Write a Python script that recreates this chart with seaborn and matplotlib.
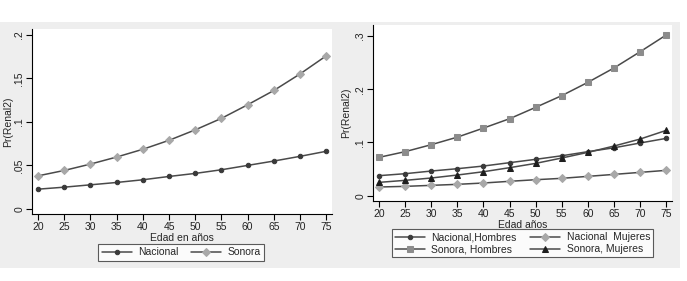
import numpy as np
import pandas as pd
import matplotlib
matplotlib.use("Agg")
import matplotlib.pyplot as plt
import matplotlib.patches as mpatches
import seaborn as sns

# edades
edad = [20, 25, 30, 35, 40, 45, 50, 55, 60, 65, 70, 75]

# panel izquierdo
nacional = [0.0227, 0.0250, 0.0277, 0.0304, 0.0335, 0.0373, 0.0408, 0.0450, 0.0500, 0.0550, 0.0604, 0.0662]
sonora = [0.0380, 0.0442, 0.0515, 0.0596, 0.0685, 0.0788, 0.0908, 0.1040, 0.1196, 0.1360, 0.1550, 0.1758]

# panel derecho
nac_hombres = [0.0376, 0.0413, 0.0463, 0.0507, 0.0557, 0.0620, 0.0683, 0.0750, 0.0827, 0.0900, 0.0990, 0.1077]
nac_mujeres = [0.0163, 0.0175, 0.0194, 0.0213, 0.0238, 0.0270, 0.0300, 0.0326, 0.0363, 0.0400, 0.0438, 0.0476]
son_hombres = [0.0720, 0.0827, 0.0958, 0.1100, 0.1270, 0.1446, 0.1660, 0.1880, 0.2130, 0.2400, 0.2705, 0.3020]
son_mujeres = [0.0250, 0.0288, 0.0332, 0.0388, 0.0450, 0.0526, 0.0607, 0.0708, 0.0814, 0.0933, 0.1064, 0.1227]

left_ticks = [0, 0.05, 0.1, 0.15, 0.2]
left_ticklabels = ["0", ".05", ".1", ".15", ".2"]
right_ticks = [0, 0.1, 0.2, 0.3]
right_ticklabels = ["0", ".1", ".2", ".3"]

sns.set_theme(style="white")
plt.rcParams['font.family'] = ['Liberation Sans', 'DejaVu Sans']

W, H = 687, 281
fig = plt.figure(figsize=(W / 100, H / 100), dpi=100)
fig.patch.set_facecolor("white")

# fondo gris de la grafica (estilo Stata)
fondo = mpatches.Rectangle((0, 1 - 268 / H), 680 / W, (268 - 22) / H,
                           transform=fig.transFigure, facecolor="#eeeeee",
                           edgecolor="none", zorder=-10)
fig.patches.append(fondo)

def box(x0, y0, x1, y1):
    return [x0 / W, 1 - y1 / H, (x1 - x0) / W, (y1 - y0) / H]

ax1 = fig.add_axes(box(32, 29, 332, 214))
ax2 = fig.add_axes(box(373, 25, 672, 201))

line_col = "#4a4a4a"
fs = 7.5

def serie(ax, y, marker, mcol, ms, label):
    df = pd.DataFrame({"edad": edad, "pr": y})
    sns.lineplot(data=df, x="edad", y="pr", ax=ax, color=line_col, lw=1.1,
                 marker=marker, markersize=ms, markerfacecolor=mcol,
                 markeredgecolor=mcol, label=label)

serie(ax1, nacional, "o", "#3a3a3a", 3.2, "Nacional")
serie(ax1, sonora, "D", "#a8a8a8", 3.8, "Sonora")

serie(ax2, nac_hombres, "o", "#3a3a3a", 3.2, "Nacional,Hombres")
serie(ax2, nac_mujeres, "D", "#a8a8a8", 3.8, "Nacional  Mujeres")
serie(ax2, son_hombres, "s", "#8c8c8c", 3.8, "Sonora, Hombres")
serie(ax2, son_mujeres, "^", "#1e1e1e", 4.3, "Sonora, Mujeres")

def estilo(ax, ticks, labels, ylim, xlabel, ylab_x):
    ax.set_facecolor("white")
    ax.set_xlim(18.85, 76.1)
    ax.set_ylim(*ylim)
    ax.set_xticks(edad)
    ax.set_xticklabels([str(e) for e in edad], fontsize=fs)
    ax.set_yticks(ticks)
    ax.set_yticklabels(labels, fontsize=fs, rotation=90, va="center")
    ax.set_xlabel(xlabel, fontsize=fs, labelpad=0.8)
    ax.set_ylabel("Pr(Renal2)", fontsize=fs)
    ax.yaxis.set_label_coords(ylab_x, 0.5)
    for s in ["top", "right"]:
        ax.spines[s].set_visible(False)
    for s in ["left", "bottom"]:
        ax.spines[s].set_color("black")
        ax.spines[s].set_linewidth(0.8)
    ax.tick_params(axis="both", direction="out", length=4, width=0.8,
                   colors="black", pad=1.5, bottom=True, left=True)
    ax.tick_params(labelcolor="#222222")

estilo(ax1, left_ticks, left_ticklabels, (-0.0058, 0.2066), "Edad en años", -0.063)
estilo(ax2, right_ticks, right_ticklabels, (-0.01, 0.3207), "Edad años", -0.074)

leg_kw = dict(ncol=2, loc="upper center", fontsize=fs, frameon=True, fancybox=False,
              handlelength=2.9, handletextpad=0.6, borderaxespad=0)
leg1 = ax1.legend(bbox_to_anchor=(0.497, -0.16), columnspacing=1.2,
                  borderpad=0.35, **leg_kw)
h, l = ax2.get_legend_handles_labels()
orden = [0, 2, 1, 3]
leg2 = ax2.legend([h[i] for i in orden], [l[i] for i in orden],
                  bbox_to_anchor=(0.5, -0.16), columnspacing=1.3,
                  borderpad=0.3, labelspacing=0.2, **leg_kw)
for lg in (leg1, leg2):
    lg.get_frame().set_edgecolor("#333333")
    lg.get_frame().set_linewidth(0.8)
    lg.get_frame().set_facecolor("white")

fig.savefig("out.png", dpi=100, facecolor="white")
